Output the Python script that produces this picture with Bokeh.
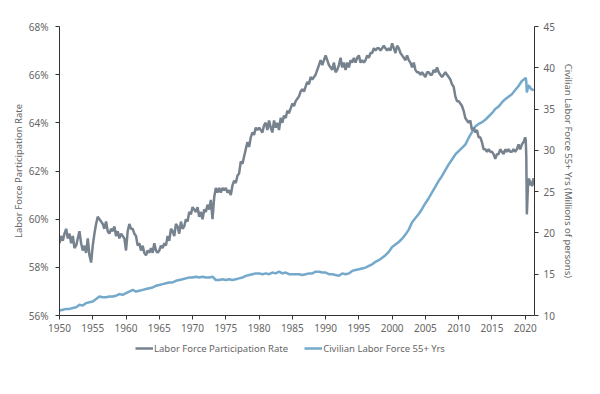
from bokeh.plotting import figure
from bokeh.layouts import column
from bokeh.models import (Range1d, LinearAxis, Legend, LegendItem, FixedTicker,
                          PrintfTickFormatter)
from bokeh.embed import file_html
from bokeh.resources import INLINE

# ---------------- data ----------------
# Labor force participation rate (%), quarterly 1950-2019
lfpr_quarterly = [
    59.0, 59.3, 59.1, 59.4,  # 1950
    59.6, 59.2, 59.4, 59.0,  # 1951
    59.3, 58.8, 58.9, 59.2,  # 1952
    59.5, 59.0, 58.7, 58.9,  # 1953
    58.6, 59.2, 58.5, 58.2,  # 1954
    58.9, 59.4, 59.8, 60.1,  # 1955
    60.0, 59.9, 59.8, 59.6,  # 1956
    59.9, 59.5, 59.4, 59.6,  # 1957
    59.5, 59.7, 59.3, 59.5,  # 1958
    59.2, 59.4, 59.3, 59.2,  # 1959
    58.7, 59.5, 59.8, 59.6,  # 1960
    59.6, 59.4, 59.3, 58.9,  # 1961
    59.0, 58.7, 58.9, 58.6,  # 1962
    58.5, 58.7, 58.6, 58.8,  # 1963
    58.6, 59.0, 58.7, 58.6,  # 1964
    58.7, 58.9, 58.8, 59.0,  # 1965
    58.9, 59.3, 59.1, 59.6,  # 1966
    59.5, 59.3, 59.8, 59.7,  # 1967
    59.4, 59.9, 59.6, 59.7,  # 1968
    60.0, 59.9, 60.3, 60.2,  # 1969
    60.5, 60.4, 60.3, 60.5,  # 1970
    60.1, 60.3, 60.0, 60.4,  # 1971
    60.3, 60.6, 60.4, 60.8,  # 1972
    60.0, 60.9, 61.3, 61.1,  # 1973
    61.3, 61.1, 61.3, 61.2,  # 1974
    61.3, 61.1, 61.2, 61.0,  # 1975
    61.4, 61.6, 61.5, 61.8,  # 1976
    61.9, 62.4, 62.3, 62.6,  # 1977
    62.9, 63.2, 63.0, 63.4,  # 1978
    63.6, 63.5, 63.8, 63.7,  # 1979
    63.8, 63.7, 63.6, 63.9,  # 1980
    64.0, 63.7, 64.1, 63.8,  # 1981
    63.6, 64.1, 63.8, 64.0,  # 1982
    63.7, 64.2, 64.0, 64.3,  # 1983
    64.2, 64.5, 64.4, 64.6,  # 1984
    64.8, 64.7, 64.9, 65.0,  # 1985
    65.1, 65.3, 65.4, 65.3,  # 1986
    65.5, 65.7, 65.6, 65.9,  # 1987
    65.8, 65.9, 66.0, 66.2,  # 1988
    66.4, 66.6, 66.4, 66.6,  # 1989
    66.8, 66.6, 66.4, 66.3,  # 1990
    66.2, 66.5, 66.1, 66.2,  # 1991
    66.4, 66.7, 66.3, 66.5,  # 1992
    66.2, 66.5, 66.3, 66.6,  # 1993
    66.5, 66.7, 66.5, 66.7,  # 1994
    66.8, 66.5, 66.6, 66.5,  # 1995
    66.6, 66.8, 66.7, 66.9,  # 1996
    66.9, 67.1, 67.0, 67.1,  # 1997
    67.1, 67.0, 67.1, 67.2,  # 1998
    67.1, 67.0, 67.1, 67.0,  # 1999
    67.3, 67.1, 66.9, 67.2,  # 2000
    67.1, 66.9, 66.8, 66.7,  # 2001
    66.6, 66.8, 66.6, 66.5,  # 2002
    66.3, 66.5, 66.2, 66.1,  # 2003
    66.1, 66.0, 66.1, 66.0,  # 2004
    65.9, 66.1, 66.1, 66.0,  # 2005
    66.0, 66.2, 66.1, 66.3,  # 2006
    66.1, 66.0, 65.9, 66.0,  # 2007
    66.1, 66.0, 65.9, 65.8,  # 2008
    65.6, 65.5, 65.1, 64.9,  # 2009
    64.9, 64.8, 64.7, 64.5,  # 2010
    64.2, 64.1, 64.0, 64.1,  # 2011
    63.7, 63.8, 63.6, 63.7,  # 2012
    63.4, 63.4, 63.2, 62.9,  # 2013
    62.9, 62.8, 62.9, 62.8,  # 2014
    62.8, 62.7, 62.5, 62.7,  # 2015
    62.7, 62.9, 62.8, 62.7,  # 2016
    62.9, 62.8, 62.9, 62.8,  # 2017
    62.8, 62.9, 62.8, 62.9,  # 2018
    63.1, 62.9, 63.1, 63.2,  # 2019
]
# monthly, Jan 2020 - Apr 2021
lfpr_monthly_2020 = [63.4, 63.3, 62.6, 60.2, 60.8, 61.4, 61.4, 61.7,
                     61.4, 61.6, 61.5, 61.5, 61.4, 61.4, 61.5, 61.7]

# Civilian labor force 55+ yrs (millions), half-yearly 1950-2019
lf55_halfyear = [
    10.6, 10.7,  10.8, 10.8,  10.9, 11.0,  11.3, 11.2,  11.5, 11.6,   # 1950-54
    11.7, 12.0,  12.3, 12.2,  12.2, 12.3,  12.3, 12.4,  12.6, 12.5,   # 1955-59
    12.7, 12.9,  13.1, 12.9,  13.0, 13.1,  13.2, 13.3,  13.4, 13.6,   # 1960-64
    13.7, 13.8,  13.9, 14.0,  14.0, 14.2,  14.3, 14.4,  14.5, 14.6,   # 1965-69
    14.6, 14.7,  14.6, 14.7,  14.6, 14.6,  14.7, 14.3,  14.3, 14.4,   # 1970-74
    14.3, 14.4,  14.3, 14.4,  14.5, 14.6,  14.8, 14.9,  15.0, 15.1,   # 1975-79
    15.1, 15.0,  15.1, 15.0,  15.2, 15.1,  15.3, 15.1,  15.2, 15.0,   # 1980-84
    15.0, 15.0,  15.0, 14.9,  15.0, 15.1,  15.1, 15.3,  15.3, 15.2,   # 1985-89
    15.2, 15.0,  15.0, 14.9,  14.8, 15.1,  15.0, 15.1,  15.4, 15.5,   # 1990-94
    15.6, 15.7,  15.8, 16.0,  16.2, 16.5,  16.7, 17.0,  17.3, 17.7,   # 1995-99
    18.3, 18.6,  18.9, 19.3,  19.8, 20.4,  21.3, 21.8,  22.3, 22.9,   # 2000-04
    23.6, 24.2,  24.9, 25.6,  26.3, 26.9,  27.6, 28.3,  28.9, 29.5,   # 2005-09
    29.9, 30.3,  30.7, 31.5,  32.2, 32.9,  33.2, 33.4,  33.7, 34.1,   # 2010-14
    34.5, 35.0,  35.3, 35.8,  36.2, 36.5,  36.8, 37.3,  37.8, 38.4,   # 2015-19
]
lf55_monthly_2020 = [38.7, 38.8, 38.3, 37.0, 37.3, 37.9, 37.8, 37.9,
                     37.5, 37.7, 37.4, 37.5, 37.3, 37.4, 37.3, 37.2]

x_ticks = [1950, 1955, 1960, 1965, 1970, 1975, 1980, 1985, 1990, 1995,
           2000, 2005, 2010, 2015, 2020]
left_ticks = [56, 58, 60, 62, 64, 66, 68]
right_ticks = [10, 15, 20, 25, 30, 35, 40, 45]
series_names = ["Labor Force Participation Rate", "Civilian Labor Force 55+ Yrs"]

months_2020 = [2020 + m / 12 for m in range(len(lfpr_monthly_2020))]
lfpr_x = [1950 + i * 0.25 for i in range(len(lfpr_quarterly))] + months_2020
lfpr_y = lfpr_quarterly + lfpr_monthly_2020
lf55_x = [1950 + i * 0.5 for i in range(len(lf55_halfyear))] + months_2020
lf55_y = lf55_halfyear + lf55_monthly_2020

# ---------------- styling ----------------
FONT = "Noto Sans"
TXT = "#666666"
AX = "#333333"
GREY = "#76828e"
BLUE = "#74a9cb"
W = 592

p = figure(width=W, height=338, output_backend="svg", toolbar_location=None,
           x_range=Range1d(1950, 2021.4), y_range=Range1d(56, 68),
           min_border_left=59, min_border_right=58, min_border_top=26,
           min_border_bottom=23)
p.extra_y_ranges = {"lf": Range1d(10, 45)}
p.outline_line_color = None
p.xgrid.visible = False
p.ygrid.visible = False

r_blue = p.line(lf55_x, lf55_y, y_range_name="lf", color=BLUE, line_width=2.5)
r_grey = p.line(lfpr_x, lfpr_y, color=GREY, line_width=2.5)

def style_axis(ax):
    ax.axis_line_color = AX
    ax.major_tick_line_color = AX
    ax.minor_tick_line_color = None
    ax.major_tick_in = 0
    ax.major_tick_out = 4
    ax.major_label_text_font = FONT
    ax.major_label_text_font_size = "10px"
    ax.major_label_text_color = TXT
    ax.axis_label_text_font = FONT
    ax.axis_label_text_font_size = "9.5px"
    ax.axis_label_text_font_style = "normal"
    ax.axis_label_text_color = TXT

xa = p.xaxis[0]
style_axis(xa)
xa.ticker = FixedTicker(ticks=x_ticks)
xa.major_label_standoff = 4

ya = p.yaxis[0]
style_axis(ya)
ya.ticker = FixedTicker(ticks=left_ticks)
ya.formatter = PrintfTickFormatter(format="%d%%")
ya.axis_label = "Labor Force Participation Rate"
ya.major_label_standoff = 7
ya.axis_label_standoff = 1

ra = LinearAxis(y_range_name="lf", axis_label="Civilian Labor Force 55+ Yrs (Millions of persons)")
style_axis(ra)
ra.ticker = FixedTicker(ticks=right_ticks)
ra.major_label_standoff = 5
ra.axis_label_standoff = 4
p.add_layout(ra, "right")

# ---- legend strip (separate figure below the chart) ----
lg = figure(width=W, height=24, output_backend="svg", toolbar_location=None,
            x_range=Range1d(0, 1), y_range=Range1d(0, 1),
            x_axis_location=None, y_axis_location=None,
            min_border_left=0, min_border_right=0, min_border_top=0, min_border_bottom=0)
lg.outline_line_color = None
lg.grid.visible = False
g1 = lg.line([5, 6], [5, 6], color=GREY, line_width=2.5)
g2 = lg.line([5, 6], [5, 6], color=BLUE, line_width=2.5)
legend = Legend(items=[LegendItem(label=series_names[0], renderers=[g1]),
                       LegendItem(label=series_names[1], renderers=[g2])],
                orientation="horizontal", location=(76, 4))
legend.border_line_color = None
legend.background_fill_alpha = 0
legend.label_text_font = FONT
legend.label_text_font_size = "9.5px"
legend.label_text_color = TXT
legend.glyph_width = 18
legend.label_standoff = 1
legend.spacing = 16
legend.margin = 0
legend.padding = 2
lg.add_layout(legend, "center")

open("out.html", "w").write(file_html(column(p, lg, spacing=0), INLINE))
